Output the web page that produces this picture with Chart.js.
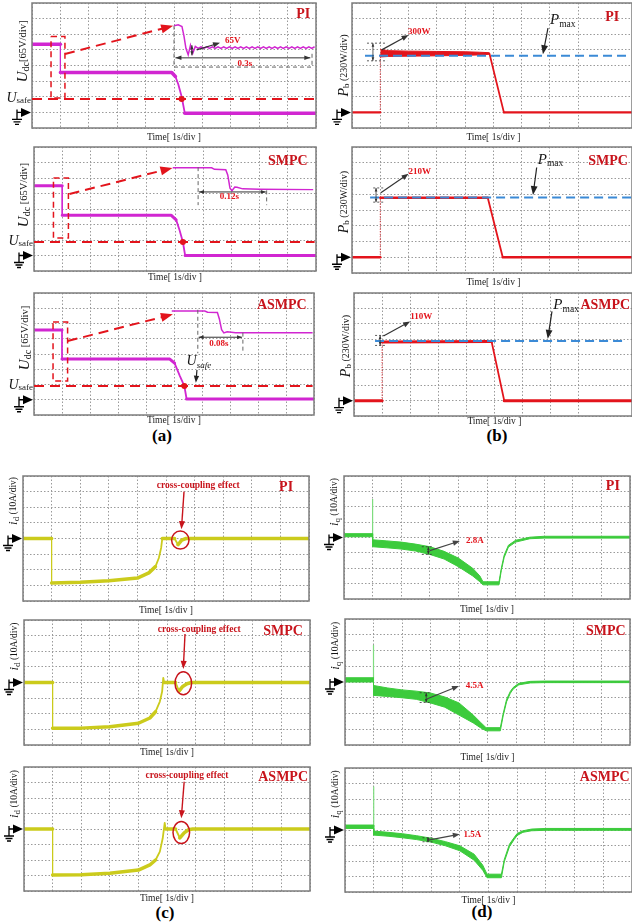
<!DOCTYPE html>
<html>
<head>
<meta charset="utf-8">
<script src="https://cdn.jsdelivr.net/npm/chart.js@4.4.1/dist/chart.umd.min.js"></script>
<style>
  html, body { margin: 0; padding: 0; background: #fff; }
  #page { position: relative; width: 632px; height: 923px; overflow: hidden; }
  #page canvas { position: absolute; top: 0; }
  .sub { position: absolute; width: 60px; text-align: center; font: bold 17px "Liberation Serif", serif; color: #000; }
</style>
</head>
<body>
<div id="page">
  <div class="sub" style="left:132px; top:426px;">(a)</div>
  <div class="sub" style="left:467px; top:426px;">(b)</div>
  <div class="sub" style="left:135px; top:903px;">(c)</div>
  <div class="sub" style="left:452px; top:902px;">(d)</div>
</div>
<script>
// all values are in scope divisions (x: 1 s/div, y: 8 divisions)

// U_dc, panel (a)
const udcPI_t = [0, 1, 1, 4.92, 5.05, 5.15, 5.27, 5.38, 10];
const udcPI_v = [5.36, 5.36, 3.55, 3.55, 3.3, 2.8, 2.0, 0.95, 0.95];
const udcPIzoom_t = [5.0, 5.15, 5.28, 5.35, 5.42, 5.5, 5.58, 5.66, 5.75,
  5.85, 5.95, 6.05, 6.15, 6.25, 6.35, 6.45, 6.55, 6.65, 6.75, 6.85, 6.95, 7.05, 7.15,
  7.25, 7.35, 7.45, 7.55, 7.65, 7.75, 7.85, 7.95, 8.05, 8.15, 8.25, 8.35, 8.45, 8.55,
  8.65, 8.75, 8.85, 8.95, 9.05, 9.15, 9.25, 9.35, 9.45, 9.55, 9.65, 9.75, 9.85, 9.95];
const udcPIzoom_v = [6.54, 6.6, 6.5, 5.9, 5.1, 4.68, 5.3, 4.78, 5.22,
  5.1, 5.2, 5.1, 5.2, 5.1, 5.2, 5.1, 5.2, 5.1, 5.2, 5.1, 5.2, 5.1, 5.2,
  5.1, 5.2, 5.1, 5.2, 5.1, 5.2, 5.1, 5.2, 5.1, 5.2, 5.1, 5.2, 5.1, 5.2,
  5.1, 5.2, 5.1, 5.2, 5.1, 5.2, 5.1, 5.2, 5.1, 5.2, 5.1, 5.2, 5.1, 5.2];
const udcSMPC_t = [0, 1, 1, 4.86, 5.04, 5.16, 5.28, 5.36, 10];
const udcSMPC_v = [5.5, 5.5, 3.6, 3.6, 3.3, 2.65, 1.87, 1.0, 1.0];
const udcSMPCzoom_t = [4.92, 6.3, 6.4, 6.8, 6.87, 6.95, 7.02, 7.12, 7.2, 7.4, 8.0, 9.9];
const udcSMPCzoom_v = [6.66, 6.66, 6.56, 6.54, 6.2, 5.35, 5.18, 5.42, 5.4, 5.3, 5.27, 5.25];
const udcASMPC_t = [0, 1, 1, 4.85, 5.02, 5.2, 5.37, 5.45, 10];
const udcASMPC_v = [5.57, 5.57, 3.67, 3.67, 3.4, 2.6, 1.9, 1.05, 1.05];
const udcASMPCzoom_t = [4.92, 6.1, 6.2, 6.55, 6.62, 6.7, 6.78, 6.9, 7.2, 9.95];
const udcASMPCzoom_v = [6.82, 6.82, 6.74, 6.72, 6.3, 5.6, 5.38, 5.46, 5.4, 5.4];
const usafeLevel = [1.86, 1.87, 1.9];

// P_b, panel (b)
const pbPI_t = [0, 1, 1, 4.86, 5.37, 9.9];
const pbPI_v = [1, 1, null, 4.76, 1, 1];
const pbPIband_t = [1.0, 1.04, 1.3, 2.0, 3.0, 4.0, 4.5, 4.86];
const pbPIband_hi = [5.05, 5.02, 4.95, 4.92, 4.9, 4.88, 4.85, 4.82];
const pbPIband_lo = [4.5, 4.55, 4.58, 4.6, 4.62, 4.65, 4.68, 4.72];
const pbSMPC_t = [0, 1, 1, 1, 4.8, 5.33, 9.9];
const pbSMPC_v = [1, 1, null, 4.78, 4.78, 1, 1];
const pbASMPC_t = [0, 1, 1, 1, 4.9, 5.35, 9.9];
const pbASMPC_v = [1, 1, null, 4.82, 4.84, 1, 1];
const pbRiseTop = [4.8, 4.78, 4.82];
const pmaxLevel = [4.63, 4.8, 4.88];

// i_d, panel (c)
const idPI_t = [0, 1, 1, 2, 3, 4, 4.4, 4.63, 4.75, 4.83, 4.87, 5.3, 5.42, 5.55, 5.7, 10];
const idPI_v = [4, 4, 1.15, 1.2, 1.3, 1.47, 1.8, 2.2, 2.75, 3.4, 4.0, 4.0, 3.6, 3.9, 4.0, 4.0];
const idSMPC_t = [0, 1, 1, 2, 3, 4, 4.4, 4.6, 4.75, 4.83, 4.87, 4.9, 5.3, 5.42, 5.55, 5.7, 5.85, 10];
const idSMPC_v = [4, 4, 1.07, 1.08, 1.17, 1.39, 1.73, 2.13, 2.78, 3.42, 4.3, 4.0, 4.0, 3.45, 3.75, 3.92, 4.0, 4.0];
const idASMPC_t = [0, 1, 1, 2, 3, 4, 4.4, 4.6, 4.75, 4.85, 4.92, 4.95, 5.3, 5.45, 5.6, 5.75, 5.9, 10];
const idASMPC_v = [4, 4, 1.03, 1.05, 1.14, 1.35, 1.68, 2.0, 2.54, 3.4, 4.4, 4.0, 4.0, 3.42, 3.75, 3.95, 4.0, 4.0];

// i_q, panel (d): noisy band as upper / lower envelope
const iqPI_t = [0, 1.0, 1.0, 1.5, 2.0, 2.5, 3.0, 3.5, 4.0, 4.5, 4.75, 4.86, 5.42, 5.5, 5.6, 5.75, 6.0, 6.5, 7.0, 10];
const iqPI_hi = [4.25, 4.25, 3.85, 3.78, 3.7, 3.57, 3.4, 3.1, 2.66, 2.0, 1.5, 1.12, 1.12, 2.0, 2.85, 3.5, 3.82, 4.02, 4.08, 4.08];
const iqPI_lo = [4.05, 4.05, 3.4, 3.33, 3.25, 3.12, 2.9, 2.6, 2.1, 1.5, 1.12, 0.92, 0.92, 1.85, 2.7, 3.38, 3.7, 3.92, 3.96, 3.96];
const iqSMPC_t = [0, 1.0, 1.0, 1.5, 2.0, 2.5, 3.0, 3.5, 4.0, 4.5, 4.75, 4.95, 5.45, 5.55, 5.67, 5.8, 5.9, 6.1, 6.5, 7.0, 10];
const iqSMPC_hi = [4.27, 4.27, 3.78, 3.62, 3.5, 3.42, 3.3, 3.05, 2.67, 1.9, 1.45, 1.1, 1.1, 2.0, 2.9, 3.4, 3.65, 3.92, 4.04, 4.06, 4.06];
const iqSMPC_lo = [4.0, 4.0, 3.15, 3.08, 3.0, 2.9, 2.67, 2.4, 1.9, 1.4, 1.1, 0.9, 0.9, 1.85, 2.75, 3.28, 3.55, 3.82, 3.94, 3.96, 3.96];
const iqASMPC_t = [0, 1.0, 1.0, 1.5, 2.0, 2.5, 3.0, 3.5, 4.0, 4.5, 4.8, 4.95, 5.45, 5.55, 5.73, 5.9, 6.0, 6.2, 6.5, 7.0, 10];
const iqASMPC_hi = [4.32, 4.32, 3.93, 3.85, 3.76, 3.63, 3.47, 3.25, 2.98, 2.44, 1.73, 1.15, 1.15, 2.1, 3.08, 3.53, 3.78, 3.95, 4.06, 4.1, 4.1];
const iqASMPC_lo = [4.1, 4.1, 3.67, 3.6, 3.5, 3.38, 3.22, 2.98, 2.66, 2.05, 1.4, 0.92, 0.92, 1.95, 2.92, 3.4, 3.65, 3.85, 3.95, 3.98, 3.98];
const iqSpike_lo = [4.1, 4.1, 4.2];
const iqSpike_hi = [6.5, 6.35, 6.8];

const SERIF = '"Liberation Serif", serif';
const RED = '#e3141c', DRED = '#c8141c', MAG = '#d126d1', YEL = '#cbcb1c', GRN = '#3ccb3c', BLUE = '#3b8ad6';

function pts(t, v) { return t.map((x, i) => ({ x: x, y: v[i] })); }
function segW(c, w) {
  const dx = Math.abs(c.p1.parsed.x - c.p0.parsed.x), dy = Math.abs(c.p1.parsed.y - c.p0.parsed.y);
  if (dx < 0.001) return 1;
  return dy / dx > 3 ? Math.min(w, 1.8) : w;
}
function lineDs(t, v, color, w) {
  return { data: pts(t, v), borderColor: color, borderWidth: w, pointRadius: 0, fill: false,
    borderCapStyle: 'round', borderJoinStyle: 'round', segment: { borderWidth: c => segW(c, w) } };
}
function thinDs(t, v, color, w, dash) {
  return { data: pts(t, v), borderColor: color, borderWidth: w, pointRadius: 0, fill: false, borderDash: dash || [] };
}
function bandDs(t, hi, lo, color) {
  return [
    { data: pts(t, hi), borderColor: color, borderWidth: 1, pointRadius: 0, fill: false },
    { data: pts(t, lo), borderColor: color, borderWidth: 1, pointRadius: 0, fill: '-1', backgroundColor: color }
  ];
}

function helpers(chart) {
  const ctx = chart.ctx, xs = chart.scales.x, ys = chart.scales.y, A = chart.chartArea;
  const X = v => xs.getPixelForValue(v), Y = v => ys.getPixelForValue(v);
  const F = f => f + ' ' + SERIF;
  function stroke(p, col, w, dash) {
    ctx.save(); ctx.strokeStyle = col; ctx.lineWidth = w; ctx.setLineDash(dash || []);
    ctx.beginPath(); p.forEach((q, i) => i ? ctx.lineTo(q[0], q[1]) : ctx.moveTo(q[0], q[1])); ctx.stroke(); ctx.restore();
  }
  function head(x1, y1, x2, y2, col, hl) {
    const a = Math.atan2(y2 - y1, x2 - x1), c = Math.cos(a), s = Math.sin(a), hw = hl * 0.38;
    ctx.save(); ctx.fillStyle = col; ctx.beginPath(); ctx.moveTo(x2, y2);
    ctx.lineTo(x2 - hl * c + hw * s, y2 - hl * s - hw * c);
    ctx.lineTo(x2 - hl * c - hw * s, y2 - hl * s + hw * c);
    ctx.closePath(); ctx.fill(); ctx.restore();
  }
  const d = {
    X, Y, A,
    line(x1, y1, x2, y2, col, w, dash) { stroke([[X(x1), Y(y1)], [X(x2), Y(y2)]], col, w, dash); },
    arrow(x1, y1, x2, y2, col, w, dash, hl) {
      const p1 = [X(x1), Y(y1)], p2 = [X(x2), Y(y2)], a = Math.atan2(p2[1] - p1[1], p2[0] - p1[0]);
      stroke([p1, [p2[0] - hl * 0.7 * Math.cos(a), p2[1] - hl * 0.7 * Math.sin(a)]], col, w, dash);
      head(p1[0], p1[1], p2[0], p2[1], col, hl);
    },
    darrow(x1, y1, x2, y2, col, w, hl) {
      const p1 = [X(x1), Y(y1)], p2 = [X(x2), Y(y2)];
      stroke([p1, p2], col, w);
      head(p1[0], p1[1], p2[0], p2[1], col, hl); head(p2[0], p2[1], p1[0], p1[1], col, hl);
    },
    rect(x1, y1, x2, y2, col, w, dash) {
      stroke([[X(x1), Y(y1)], [X(x2), Y(y1)], [X(x2), Y(y2)], [X(x1), Y(y2)], [X(x1), Y(y1)]], col, w, dash);
    },
    ellipse(x, y, rx, ry, col, w) {
      ctx.save(); ctx.strokeStyle = col; ctx.lineWidth = w; ctx.beginPath();
      ctx.ellipse(X(x), Y(y), rx, ry, 0, 0, Math.PI * 2); ctx.stroke(); ctx.restore();
    },
    dot(x, y) { ctx.save(); ctx.fillStyle = RED; ctx.beginPath(); ctx.arc(X(x), Y(y), 3, 0, Math.PI * 2); ctx.fill(); ctx.restore(); },
    richPx(px, py, parts, color, align, rot) {
      ctx.save(); ctx.translate(px, py); if (rot) ctx.rotate(rot);
      ctx.textBaseline = 'middle'; ctx.fillStyle = color;
      let w = 0; parts.forEach(p => { ctx.font = F(p[1]); w += ctx.measureText(p[0]).width; });
      let cx = align === 'center' ? -w / 2 : align === 'right' ? -w : 0;
      parts.forEach(p => { ctx.font = F(p[1]); ctx.fillText(p[0], cx, p[2] || 0); cx += ctx.measureText(p[0]).width; });
      ctx.restore();
    },
    rich(x, y, parts, color, align, rot) { this.richPx(X(x), Y(y), parts, color, align, rot); },
    text(x, y, s, f, color, align) { this.rich(x, y, [[s, f]], color, align, 0); },
    tag(s, x, y) { this.text(x, y, s, 'bold 14px', DRED, 'center'); },
    ylab(x, y, parts) { this.rich(x, y, parts, '#151515', 'center', -Math.PI / 2); },
    timeLab(off) { this.richPx(X(5), A.bottom + off, [['Time[ 1s/div ]', '9.5px']], '#222', 'center', 0); },
    ground(v) {
      const x = A.left, y = Y(v);
      ctx.save(); ctx.fillStyle = '#000'; ctx.strokeStyle = '#000'; ctx.lineWidth = 1.3;
      ctx.beginPath(); ctx.moveTo(x - 1, y); ctx.lineTo(x - 11, y - 4.5); ctx.lineTo(x - 11, y + 4.5); ctx.closePath(); ctx.fill();
      ctx.beginPath();
      ctx.moveTo(x - 11, y); ctx.lineTo(x - 15, y);
      ctx.moveTo(x - 15, y - 3); ctx.lineTo(x - 15, y + 7);
      ctx.moveTo(x - 20, y + 7); ctx.lineTo(x - 10, y + 7);
      ctx.moveTo(x - 18.5, y + 9.5); ctx.lineTo(x - 11.5, y + 9.5);
      ctx.moveTo(x - 17, y + 12); ctx.lineTo(x - 13, y + 12);
      ctx.stroke(); ctx.restore();
    },
    usafe(v) {
      this.line(0, v, 9.95, v, RED, 2, [10, 6]);
      this.richPx(A.left - 1, Y(v) - 1, [['U', 'italic 14px'], ['safe', '9px', 3]], '#151515', 'right', 0);
    },
    pmax(x, y, x1, y1, x2, y2) {
      this.rich(x, y, [['P', 'italic 15px'], ['max', '9.5px', 4]], '#151515', 'left', 0);
      this.arrow(x1, y1, x2, y2, '#222', 1.2, null, 9);
    },
    pline(v, x1, x2) { this.line(x1, v, x2, v, BLUE, 2, [9, 5]); },
    bracket(x1, x2, xa, hi, lo) {
      this.line(x1, hi, x2, hi, '#333', 0.8, [2, 2]); this.line(x1, lo, x2, lo, '#333', 0.8, [2, 2]);
      this.darrow(xa, hi, xa, lo, '#333', 0.8, 3.5);
    }
  };
  return d;
}

const uLab = [['U', 'italic 15px'], ['dc', '10px', 3], ['[65V/div]', '10.5px']];
const pLab = [['P', 'italic 14px'], ['b', '9px', 3], [' (230W/div)', '10px']];
const idLab = [['i', 'italic 13px'], ['d', '9px', 3], [' (10A/div)', '9.5px']];
const iqLab = [['i', 'italic 13px'], ['q', '9px', 3], [' (10A/div)', '9.5px']];

const panels = [
  { col: 0, area: [32, 3, 316, 128], xmax: 10, tl: 9, gnd: 1,
    sets: [lineDs(udcPI_t, udcPI_v, MAG, 3.5), thinDs(udcPIzoom_t, udcPIzoom_v, MAG, 1.5)],
    draw: d => {
      d.ylab(-0.32, 4.9, uLab);
      d.usafe(usafeLevel[0]);
      d.rect(0.67, 5.85, 1.16, 1.92, RED, 1.5, [6, 4]);
      d.arrow(1.16, 4.74, 4.97, 6.54, RED, 2, [10, 6], 12);
      d.line(5.0, 6.55, 5.0, 3.9, '#666', 1, [4, 3]);
      d.line(5.0, 3.9, 9.86, 3.9, '#666', 1, [4, 3]);
      d.line(9.86, 4.75, 9.86, 3.9, '#666', 1, [4, 3]);
      d.darrow(5.05, 4.49, 9.8, 4.49, '#333', 1, 6);
      d.text(7.5, 4.12, '0.3s', 'bold 9px', RED, 'center');
      d.darrow(5.63, 5.3, 5.63, 4.65, '#333', 1, 4);
      d.arrow(5.8, 5.0, 6.62, 5.45, '#333', 1.2, null, 7);
      d.text(6.8, 5.6, '65V', 'bold 9px', RED, 'left');
      d.dot(5.27, usafeLevel[0]);
      d.tag('PI', 9.55, 7.25);
    } },
  { col: 0, area: [34, 147, 316, 271], xmax: 10, tl: 6, gnd: 1,
    sets: [lineDs(udcSMPC_t, udcSMPC_v, MAG, 3), thinDs(udcSMPCzoom_t, udcSMPCzoom_v, MAG, 1.5)],
    draw: d => {
      d.ylab(-0.34, 4.9, [['U', 'italic 15px'], ['dc', '10px', 3], [' [65V/div]', '10.5px']]);
      d.usafe(usafeLevel[1]);
      d.rect(0.69, 6.0, 1.22, 2.13, RED, 1.5, [6, 4]);
      d.arrow(1.26, 4.97, 4.91, 6.65, RED, 2, [10, 6], 12);
      d.line(5.82, 6.7, 5.82, 4.25, '#666', 1, [4, 3]);
      d.line(8.25, 5.2, 8.25, 4.25, '#666', 1, [4, 3]);
      d.darrow(5.85, 5.1, 8.22, 5.1, '#333', 1, 5);
      d.text(6.93, 4.77, '0.12s', 'bold 9px', RED, 'center');
      d.dot(5.28, usafeLevel[1]);
      d.tag('SMPC', 9.0, 7.1);
    } },
  { col: 0, area: [34, 293, 314, 415], xmax: 10, tl: 5, gnd: 1,
    sets: [lineDs(udcASMPC_t, udcASMPC_v, MAG, 3), thinDs(udcASMPCzoom_t, udcASMPCzoom_v, MAG, 1.5)],
    draw: d => {
      d.ylab(-0.32, 5.05, [['U', 'italic 15px'], ['dc', '10px', 3], [' [65V/div]', '10.5px']]);
      d.usafe(usafeLevel[2]);
      d.rect(0.68, 6.1, 1.2, 2.23, RED, 1.5, [6, 4]);
      d.arrow(1.2, 4.85, 4.96, 6.6, RED, 2, [10, 6], 12);
      d.line(5.85, 6.9, 5.85, 4.05, '#666', 1, [4, 3]);
      d.line(7.46, 5.4, 7.46, 4.05, '#666', 1, [4, 3]);
      d.darrow(5.88, 5.1, 7.43, 5.1, '#333', 1, 5);
      d.text(6.6, 4.67, '0.08s', 'bold 9px', RED, 'center');
      d.rich(5.45, 3.5, [['U', 'italic 14px'], ['safe', 'italic 9px', 4]], '#151515', 'left', 0);
      d.arrow(5.82, 2.95, 5.78, 2.12, '#222', 1.2, null, 7);
      d.dot(5.37, usafeLevel[2]);
      d.tag('ASMPC', 8.85, 7.2);
    } },
  { col: 1, area: [352, 3, 632, 128], xmax: 9.9, tl: 9, gnd: 1,
    sets: [lineDs(pbPI_t, pbPI_v, RED, 2.2), thinDs([1, 1], [1, pbRiseTop[0]], RED, 1, [1, 1.5])]
      .concat(bandDs(pbPIband_t, pbPIband_hi, pbPIband_lo, RED)),
    draw: d => {
      d.ylab(-0.28, 4.0, pLab);
      d.pline(pmaxLevel[0], 0.46, 9.7);
      d.bracket(0.53, 1.24, 0.74, 5.43, 4.3);
      d.arrow(1.05, 5.0, 2.0, 5.95, '#333', 1.2, null, 7);
      d.text(1.98, 6.15, '300W', 'bold 9px', RED, 'left');
      d.pmax(7.0, 6.9, 6.93, 6.4, 6.75, 4.72);
      d.tag('PI', 9.2, 7.1);
    } },
  { col: 1, area: [352, 147, 632, 273], xmax: 9.9, tl: 9, gnd: 1,
    sets: [lineDs(pbSMPC_t, pbSMPC_v, RED, 2.5), thinDs([1, 1], [1, pbRiseTop[1]], RED, 1, [1, 1.5])],
    draw: d => {
      d.ylab(-0.28, 4.5, pLab);
      d.pline(pmaxLevel[1], 0.64, 9.9);
      d.bracket(0.75, 1.17, 0.85, 5.4, 4.5);
      d.arrow(1.02, 5.1, 2.0, 6.3, '#333', 1.2, null, 7);
      d.text(2.0, 6.43, '210W', 'bold 9px', RED, 'left');
      d.pmax(6.57, 7.2, 6.53, 6.7, 6.4, 4.95);
      d.tag('SMPC', 9.05, 7.1);
    } },
  { col: 1, area: [354, 293, 632, 416], xmax: 9.9, tl: 5, gnd: 1,
    sets: [lineDs(pbASMPC_t, pbASMPC_v, RED, 3), thinDs([1, 1], [1, pbRiseTop[2]], RED, 1, [1, 1.5])],
    draw: d => {
      d.ylab(-0.28, 4.55, pLab);
      d.pline(pmaxLevel[2], 0.75, 9.67);
      d.bracket(0.75, 1.1, 0.93, 5.24, 4.59);
      d.arrow(1.05, 5.2, 2.0, 6.15, '#333', 1.2, null, 7);
      d.text(2.0, 6.45, '110W', 'bold 9px', RED, 'left');
      d.pmax(7.1, 7.2, 7.05, 6.8, 6.9, 5.02);
      d.tag('ASMPC', 8.95, 7.2);
    } },
  { col: 0, area: [23, 476, 309, 601], xmax: 10, tl: 9, gnd: 4,
    sets: [lineDs(idPI_t, idPI_v, YEL, 3.5)],
    draw: d => {
      d.ylab(-0.33, 6.4, idLab);
      d.ellipse(5.5, 3.9, 8.7, 9, DRED, 1.5);
      d.arrow(5.63, 7.0, 5.54, 4.6, DRED, 1.4, null, 8);
      d.text(6.13, 7.37, 'cross-coupling effect', 'bold 9.5px', DRED, 'center');
      d.tag('PI', 9.2, 7.25);
    } },
  { col: 0, area: [24, 620, 310, 745], xmax: 10, tl: 7, gnd: 4,
    sets: [lineDs(idSMPC_t, idSMPC_v, YEL, 3.5)],
    draw: d => {
      d.ylab(-0.33, 6.3, idLab);
      d.ellipse(5.57, 3.95, 8.3, 11.5, DRED, 1.5);
      d.arrow(5.63, 7.1, 5.57, 4.87, DRED, 1.4, null, 8);
      d.text(6.13, 7.37, 'cross-coupling effect', 'bold 9.5px', DRED, 'center');
      d.tag('SMPC', 9.06, 7.25);
    } },
  { col: 0, area: [24, 767, 310, 891], xmax: 10, tl: 7, gnd: 4,
    sets: [lineDs(idASMPC_t, idASMPC_v, YEL, 3.5)],
    draw: d => {
      d.ylab(-0.33, 6.25, idLab);
      d.ellipse(5.5, 3.77, 8.3, 11, DRED, 1.5);
      d.arrow(5.6, 7.05, 5.5, 4.7, DRED, 1.4, null, 8);
      d.text(5.7, 7.44, 'cross-coupling effect', 'bold 9.5px', DRED, 'center');
      d.tag('ASMPC', 9.06, 7.3);
    } },
  { col: 1, area: [344, 476, 630, 599], xmax: 10, tl: 10, gnd: 4,
    sets: bandDs(iqPI_t, iqPI_hi, iqPI_lo, GRN).concat([thinDs([1, 1], [iqSpike_lo[0], iqSpike_hi[0]], '#7fdc7f', 1.2)]),
    draw: d => {
      d.ylab(-0.33, 6.3, iqLab);
      d.bracket(2.72, 3.12, 2.95, 3.4, 2.9);
      d.arrow(3.0, 3.15, 4.05, 3.77, '#444', 1.2, null, 7);
      d.text(4.27, 3.77, '2.8A', 'bold 9px', RED, 'left');
      d.tag('PI', 9.4, 7.3);
    } },
  { col: 1, area: [345, 619, 630, 745], xmax: 10, tl: 12, gnd: 4,
    sets: bandDs(iqSMPC_t, iqSMPC_hi, iqSMPC_lo, GRN).concat([thinDs([1, 1], [iqSpike_lo[1], iqSpike_hi[1]], '#7fdc7f', 1.2)]),
    draw: d => {
      d.ylab(-0.33, 6.3, iqLab);
      d.bracket(2.62, 3.02, 2.85, 3.32, 2.7);
      d.arrow(2.87, 2.92, 4.0, 3.75, '#444', 1.2, null, 7);
      d.text(4.24, 3.75, '4.5A', 'bold 9px', RED, 'left');
      d.tag('SMPC', 9.15, 7.2);
    } },
  { col: 1, area: [345, 768, 632, 892], xmax: 10, tl: 8, gnd: 4,
    sets: bandDs(iqASMPC_t, iqASMPC_hi, iqASMPC_lo, GRN).concat([thinDs([1, 1], [iqSpike_lo[2], iqSpike_hi[2]], '#7fdc7f', 1.2)]),
    draw: d => {
      d.ylab(-0.33, 6.3, iqLab);
      d.bracket(2.7, 3.05, 2.9, 3.5, 3.24);
      d.arrow(2.9, 3.35, 4.0, 3.73, '#444', 1.2, null, 7);
      d.text(4.13, 3.73, '1.5A', 'bold 9px', RED, 'left');
      d.tag('ASMPC', 9.05, 7.4);
    } }
];

const page = document.getElementById('page');
const cols = [{ x: 0, w: 322 }, { x: 320, w: 312 }];

panels.forEach(p => {
  const c = cols[p.col];
  const cv = document.createElement('canvas');
  cv.width = c.w; cv.height = 923;
  cv.style.left = c.x + 'px';
  page.appendChild(cv);
  const [l, t, r, b] = p.area;

  const overlay = {
    id: 'overlay',
    afterDatasetsDraw(chart) {
      const A = chart.chartArea, ctx = chart.ctx;
      ctx.save(); ctx.strokeStyle = '#7d7d7d'; ctx.lineWidth = 1.5;
      ctx.strokeRect(A.left, A.top, A.right - A.left, A.bottom - A.top); ctx.restore();
      const d = helpers(chart);
      d.timeLab(p.tl);
      d.ground(p.gnd);
      p.draw(d);
    }
  };

  new Chart(cv, {
    type: 'line',
    data: { datasets: p.sets },
    options: {
      responsive: false, animation: false, devicePixelRatio: 1,
      layout: { padding: { left: l - c.x, right: c.x + c.w - r, top: t, bottom: 923 - b } },
      plugins: { legend: { display: false }, tooltip: { enabled: false } },
      elements: { point: { radius: 0 }, line: { tension: 0 } },
      scales: {
        x: { type: 'linear', min: 0, max: p.xmax,
          ticks: { display: false, stepSize: 1 },
          grid: { color: '#9a9a9a', lineWidth: 1, drawTicks: false },
          border: { display: false, dash: [1.5, 2] },
          afterFit: s => { s.height = 0; } },
        y: { type: 'linear', min: 0, max: 8,
          ticks: { display: false, stepSize: 1 },
          grid: { color: '#9a9a9a', lineWidth: 1, drawTicks: false },
          border: { display: false, dash: [1.5, 2] },
          afterFit: s => { s.width = 0; } }
      }
    },
    plugins: [overlay]
  });
});
</script>
</body>
</html>
